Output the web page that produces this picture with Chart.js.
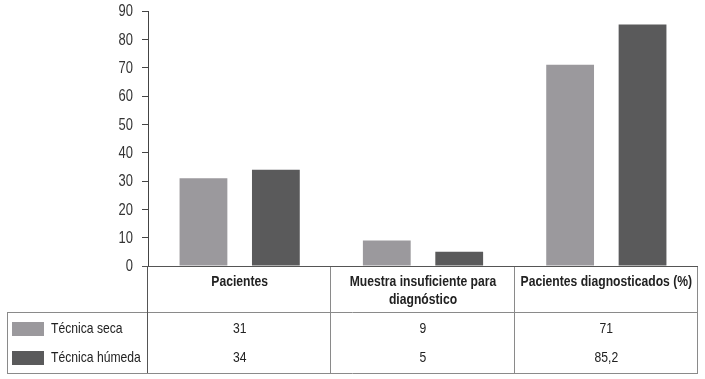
<!DOCTYPE html>
<html>
<head>
<meta charset="utf-8">
<script src="https://cdn.jsdelivr.net/npm/chart.js@4/dist/chart.umd.min.js"></script>
<style>
  html, body { margin: 0; padding: 0; background: #ffffff; }
  #wrap { width: 705px; height: 379px; position: relative; }
</style>
</head>
<body>
<div id="wrap"><canvas id="c" width="705" height="379"></canvas></div>
<script>
// ---- Data ----
const categories = [
  ['Pacientes'],
  ['Muestra insuficiente para', 'diagnóstico'],
  ['Pacientes diagnosticados (%)']
];
const seriesNames = ['Técnica seca', 'Técnica húmeda'];
const tecnicaSeca = [31, 9, 71];
const tecnicaHumeda = [34, 5, 85.2];
const yTicks = [0, 10, 20, 30, 40, 50, 60, 70, 80, 90];

// ---- Styles ----
const FONT = "'Liberation Sans', Arial, sans-serif";
const SQUEEZE = 0.81;
const colors = ['#9b999d', '#5a5a5b'];

const fmt = v => String(v).replace('.', ',');

function narrowText(ctx, text, x, y, align, font, color) {
  ctx.save();
  ctx.font = font;
  ctx.fillStyle = color;
  ctx.textAlign = align;
  ctx.textBaseline = 'middle';
  ctx.translate(x, y);
  ctx.scale(SQUEEZE, 1);
  ctx.fillText(text, 0, 0);
  ctx.restore();
}

const tablePlugin = {
  id: 'dataTable',
  afterDraw(chart) {
    const ctx = chart.ctx;
    const xs = chart.scales.x;
    const ys = chart.scales.y;
    const area = chart.chartArea;
    const n = categories.length;
    const left = area.left, right = area.right;
    const w = (right - left) / n;
    const top = area.bottom;
    const headerBottom = top + 46;
    const tableBottom = top + 107;
    const tableLeft = 7;
    const rows = [tecnicaSeca, tecnicaHumeda];

    ctx.save();
    // y tick labels (narrow)
    yTicks.forEach(v => {
      narrowText(ctx, String(v), left - 15, ys.getPixelForValue(v) + 1, 'right',
        '16px ' + FONT, '#333333');
    });

    // table lines
    ctx.lineWidth = 1;
    ctx.strokeStyle = '#8a8a8a';
    ctx.beginPath();
    for (let i = 1; i <= n; i++) {
      const x = Math.round(left + i * w) - 0.5;
      ctx.moveTo(x, top);
      ctx.lineTo(x, tableBottom);
    }
    ctx.moveTo(tableLeft + 0.5, headerBottom);
    ctx.lineTo(tableLeft + 0.5, tableBottom);
    ctx.moveTo(tableLeft, headerBottom + 0.5);
    ctx.lineTo(Math.round(right), headerBottom + 0.5);
    ctx.moveTo(tableLeft, tableBottom + 0.5);
    ctx.lineTo(Math.round(right), tableBottom + 0.5);
    ctx.stroke();
    ctx.strokeStyle = '#555555';
    ctx.beginPath();
    ctx.moveTo(Math.round(left) - 0.5, top);
    ctx.lineTo(Math.round(left) - 0.5, tableBottom);
    ctx.stroke();

    // x axis line
    ctx.strokeStyle = '#555555';
    ctx.beginPath();
    ctx.moveTo(left - 6, Math.round(top) + 0.5);
    ctx.lineTo(Math.round(right), Math.round(top) + 0.5);
    ctx.stroke();

    // header text
    categories.forEach((lines, i) => {
      const cx = xs.getPixelForValue(i);
      lines.forEach((t, j) => {
        narrowText(ctx, t, cx, top + 16 + j * 18, 'center', 'bold 15px ' + FONT, '#222222');
      });
    });

    // data rows
    const rowY = [headerBottom + 17, headerBottom + 46];
    rows.forEach((vals, r) => {
      vals.forEach((v, i) => {
        narrowText(ctx, fmt(v), xs.getPixelForValue(i), rowY[r], 'center', '15px ' + FONT, '#222222');
      });
      ctx.fillStyle = colors[r];
      ctx.fillRect(12, rowY[r] - 7, 32, 14);
      narrowText(ctx, seriesNames[r], 51, rowY[r], 'left', '15px ' + FONT, '#222222');
    });
    ctx.restore();
  }
};

new Chart(document.getElementById('c'), {
  type: 'bar',
  data: {
    labels: categories.map(c => c.join(' ')),
    datasets: [
      { label: seriesNames[0], data: tecnicaSeca, backgroundColor: colors[0],
        categoryPercentage: 0.79, barPercentage: 0.66 },
      { label: seriesNames[1], data: tecnicaHumeda, backgroundColor: colors[1],
        categoryPercentage: 0.79, barPercentage: 0.66 }
    ]
  },
  options: {
    responsive: false,
    animation: false,
    layout: { padding: { top: 11, right: 7, bottom: 113, left: 0 } },
    plugins: { legend: { display: false }, tooltip: { enabled: false } },
    scales: {
      x: { display: false },
      y: {
        min: 0, max: 90,
        afterFit(scale) { scale.width = 148; },
        afterBuildTicks(scale) { scale.ticks = yTicks.map(v => ({ value: v })); },
        ticks: { display: false },
        grid: { drawOnChartArea: false, drawTicks: true, tickLength: 6, color: '#444444' },
        border: { display: true, color: '#444444', width: 1 }
      }
    }
  },
  plugins: [tablePlugin]
});
</script>
</body>
</html>
